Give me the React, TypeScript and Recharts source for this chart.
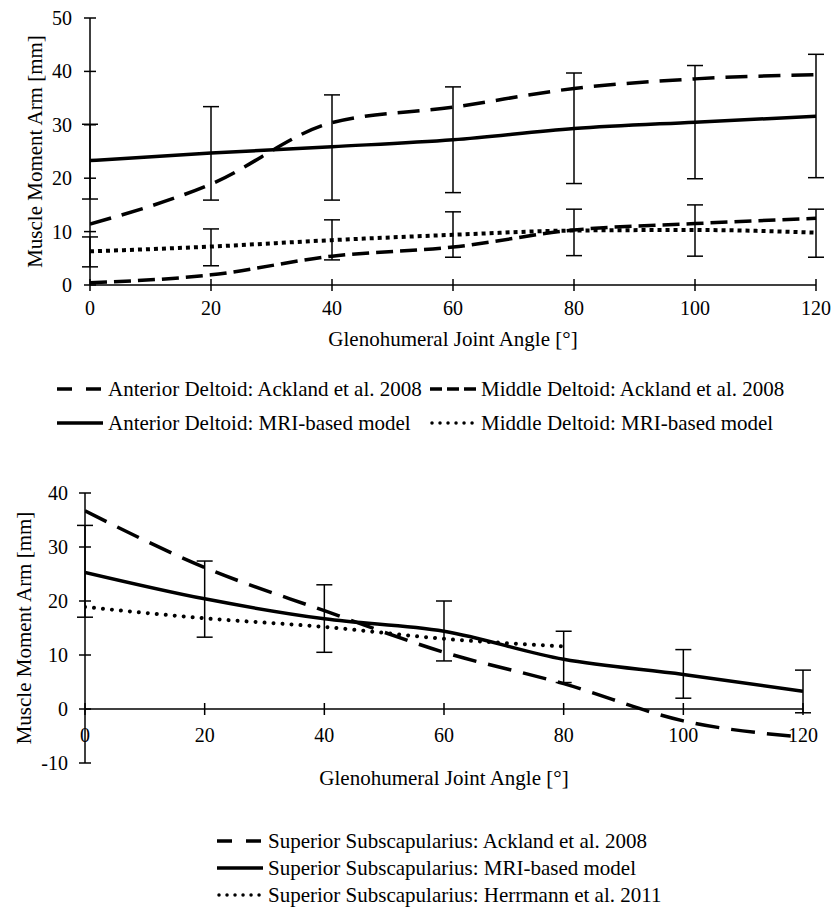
import React from 'react';
import { LineChart, Line, XAxis, YAxis, ErrorBar, ReferenceLine } from 'recharts';

// ---------- data ----------
const angles = [0, 20, 40, 60, 80, 100, 120];
const xTicks = [0, 20, 40, 60, 80, 100, 120];
const topYTicks = [0, 10, 20, 30, 40, 50];
const bottomYTicks = [-10, 0, 10, 20, 30, 40];

const anteriorAckland = [11.4, 18.9, 30.4, 33.3, 36.8, 38.6, 39.4];
const anteriorMRI = [23.3, 24.7, 25.9, 27.2, 29.3, 30.5, 31.6];
const anteriorMRIUpper = [30.1, 33.4, 35.6, 37.1, 39.7, 41.1, 43.2];
const anteriorMRILower = [16.1, 15.9, 15.9, 17.3, 19.0, 19.9, 20.1];

const middleAckland = [0.4, 1.9, 5.4, 7.1, 10.3, 11.5, 12.5];
const middleMRI = [6.3, 7.2, 8.4, 9.4, 10.2, 10.3, 9.8];
const middleMRIUpper = [9.0, 10.5, 12.2, 13.7, 14.2, 15.0, 14.2];
const middleMRILower = [3.4, 3.6, 4.7, 5.2, 5.5, 5.4, 5.2];

const subAckland = [36.7, 26.2, 18.2, 10.5, 4.7, -2.2, -5.2];
const subMRI = [25.3, 20.4, 16.7, 14.4, 9.2, 6.4, 3.3];
const subMRIUpper = [34.0, 27.4, 23.0, 20.0, 14.4, 11.0, 7.2];
const subMRILower = [17.0, 13.3, 10.5, 8.9, 4.9, 2.0, -0.7];
const subHerrmann: (number | null)[] = [18.9, 16.8, 15.2, 13.0, 11.6, null, null];

const topLegend = [
  'Anterior Deltoid: Ackland et al. 2008',
  'Middle Deltoid: Ackland et al. 2008',
  'Anterior Deltoid: MRI-based model',
  'Middle Deltoid: MRI-based model',
];
const bottomLegend = [
  'Superior Subscapularius: Ackland et al. 2008',
  'Superior Subscapularius: MRI-based model',
  'Superior Subscapularius: Herrmann et al. 2011',
];

const topData = angles.map((a, i) => ({
  angle: a,
  antAck: anteriorAckland[i],
  antMRI: anteriorMRI[i],
  antErr: [anteriorMRI[i] - anteriorMRILower[i], anteriorMRIUpper[i] - anteriorMRI[i]],
  midAck: middleAckland[i],
  midMRI: middleMRI[i],
  midErr: [middleMRI[i] - middleMRILower[i], middleMRIUpper[i] - middleMRI[i]],
}));

const bottomData = angles.map((a, i) => ({
  angle: a,
  ack: subAckland[i],
  mri: subMRI[i],
  mriErr: [subMRI[i] - subMRILower[i], subMRIUpper[i] - subMRI[i]],
  herr: subHerrmann[i],
}));

// ---------- styles ----------
const FONT = "'Liberation Serif', 'Times New Roman', serif";
const INK = '#000';
const TICK_FS = 20;
const LABEL_FS = 21;

const DASH_LONG = '22 11';
const DASH_SHORT = '17 7';
const DOT_SQUARE = '4 4';
const DOT_ROUND = '0.01 9';
const DASH_SUB = '24 12';

const LEG_DASH_LONG = '15 14';
const LEG_DASH_SHORT = '12 5';
const LEG_DOT = '0.01 8';

// bottom chart geometry
const B_PLOT_H = 270;
const B_MIN = -10;
const B_MAX = 40;
const B_ZERO_OFF = (B_PLOT_H * (0 - B_MIN)) / (B_MAX - B_MIN);

const XTickTop = (props: any) => {
  const { x, y, payload } = props;
  return (
    <g>
      <line x1={x} x2={x} y1={y - 6} y2={y + 6} stroke={INK} strokeWidth={1.5} />
      <text x={x} y={y + 30} textAnchor="middle" fontSize={TICK_FS} fontFamily={FONT} fill={INK}>
        {payload.value}
      </text>
    </g>
  );
};

const XTickBottom = (props: any) => {
  const { x, y, payload } = props;
  const y0 = y - B_ZERO_OFF;
  return (
    <g>
      <line x1={x} x2={x} y1={y0 - 6} y2={y0 + 6} stroke={INK} strokeWidth={1.5} />
      <text x={x} y={y0 + 33} textAnchor="middle" fontSize={TICK_FS} fontFamily={FONT} fill={INK}>
        {payload.value}
      </text>
    </g>
  );
};

const makeYTick = (gap: number) => (props: any) => {
  const { x, y, payload } = props;
  return (
    <g>
      <line x1={x - 6} x2={x + 6} y1={y} y2={y} stroke={INK} strokeWidth={1.5} />
      <text x={x - gap} y={y + 7} textAnchor="end" fontSize={TICK_FS} fontFamily={FONT} fill={INK}>
        {payload.value}
      </text>
    </g>
  );
};
const YTickTop = makeYTick(18);
const YTickBottom = makeYTick(17);

const LegendItem = ({
  left,
  top,
  dash,
  sw,
  cap,
  label,
}: {
  left: number;
  top: number;
  dash?: string;
  sw: number;
  cap?: 'butt' | 'round';
  label: string;
}) => (
  <div
    style={{
      position: 'absolute',
      left,
      top: top - 13,
      height: 26,
      display: 'flex',
      alignItems: 'center',
      whiteSpace: 'nowrap',
      fontFamily: FONT,
      fontSize: LABEL_FS,
      color: INK,
    }}
  >
    <svg width={46} height={10} style={{ display: 'block' }}>
      <line x1={cap === 'round' ? 2 : 0} y1={5} x2={46} y2={5} stroke={INK} strokeWidth={sw} strokeDasharray={dash} strokeLinecap={cap || 'butt'} />
    </svg>
    <span style={{ marginLeft: 5, lineHeight: '26px' }}>{label}</span>
  </div>
);

export default function App() {
  return (
    <div style={{ position: 'absolute', left: 0, top: 0, width: 835, height: 911, background: '#fff', fontFamily: FONT }}>
      {/* ---------- top chart ---------- */}
      <div style={{ position: 'absolute', left: 0, top: 0 }}>
        <LineChart width={835} height={360} data={topData} margin={{ top: 18, right: 19, bottom: 0, left: 0 }}>
          <XAxis
            dataKey="angle"
            type="number"
            domain={[0, 120]}
            ticks={xTicks}
            interval={0}
            allowDataOverflow
            height={75}
            tickSize={0}
            tickMargin={0}
            tickLine={false}
            axisLine={{ stroke: INK, strokeWidth: 1.5 }}
            tick={<XTickTop />}
            label={{
              value: 'Glenohumeral Joint Angle [°]',
              position: 'insideBottom',
              offset: 14,
              fontSize: LABEL_FS,
              fontFamily: FONT,
              fill: INK,
            }}
          />
          <YAxis
            type="number"
            domain={[0, 50]}
            ticks={topYTicks}
            interval={0}
            width={90}
            tickSize={0}
            tickMargin={0}
            tickLine={false}
            axisLine={{ stroke: INK, strokeWidth: 1.5 }}
            tick={<YTickTop />}
            label={{
              value: 'Muscle Moment Arm [mm]',
              angle: -90,
              position: 'insideLeft',
              offset: 35,
              fontSize: LABEL_FS,
              fontFamily: FONT,
              fill: INK,
              style: { textAnchor: 'middle' },
            }}
          />
          <Line dataKey="antAck" type="monotone" stroke={INK} strokeWidth={3.5} strokeDasharray={DASH_LONG} dot={false} activeDot={false} isAnimationActive={false} />
          <Line dataKey="midAck" type="monotone" stroke={INK} strokeWidth={3.5} strokeDasharray={DASH_SHORT} dot={false} activeDot={false} isAnimationActive={false} />
          <Line dataKey="antMRI" type="monotone" stroke={INK} strokeWidth={3.5} dot={false} activeDot={false} isAnimationActive={false}>
            <ErrorBar dataKey="antErr" width={8} strokeWidth={1.5} stroke={INK} direction="y" />
          </Line>
          <Line dataKey="midMRI" type="monotone" stroke={INK} strokeWidth={4} strokeDasharray={DOT_SQUARE} dot={false} activeDot={false} isAnimationActive={false}>
            <ErrorBar dataKey="midErr" width={8} strokeWidth={1.5} stroke={INK} direction="y" />
          </Line>
        </LineChart>
      </div>

      {/* top legend */}
      <LegendItem left={57} top={389} dash={LEG_DASH_LONG} sw={3.5} label={topLegend[0]} />
      <LegendItem left={430} top={389} dash={LEG_DASH_SHORT} sw={3.5} label={topLegend[1]} />
      <LegendItem left={57} top={423} sw={3.5} label={topLegend[2]} />
      <LegendItem left={430} top={423} dash={LEG_DOT} sw={3.5} cap="round" label={topLegend[3]} />

      {/* ---------- bottom chart ---------- */}
      <div style={{ position: 'absolute', left: 0, top: 470 }}>
        <LineChart width={835} height={340} data={bottomData} margin={{ top: 23, right: 32, bottom: 0, left: 0 }}>
          <XAxis
            dataKey="angle"
            type="number"
            domain={[0, 120]}
            ticks={xTicks}
            interval={0}
            allowDataOverflow
            height={47}
            tickSize={0}
            tickMargin={0}
            tickLine={false}
            axisLine={false}
            tick={<XTickBottom />}
            label={{
              value: 'Glenohumeral Joint Angle [°]',
              position: 'insideBottom',
              offset: 25,
              fontSize: LABEL_FS,
              fontFamily: FONT,
              fill: INK,
            }}
          />
          <YAxis
            type="number"
            domain={[B_MIN, B_MAX]}
            ticks={bottomYTicks}
            interval={0}
            width={85}
            tickSize={0}
            tickMargin={0}
            tickLine={false}
            axisLine={{ stroke: INK, strokeWidth: 1.5 }}
            tick={<YTickBottom />}
            label={{
              value: 'Muscle Moment Arm [mm]',
              angle: -90,
              position: 'insideLeft',
              offset: 24,
              fontSize: LABEL_FS,
              fontFamily: FONT,
              fill: INK,
              style: { textAnchor: 'middle' },
            }}
          />
          <ReferenceLine y={0} stroke={INK} strokeWidth={1.5} />
          <Line dataKey="ack" type="monotone" stroke={INK} strokeWidth={3.5} strokeDasharray={DASH_SUB} dot={false} activeDot={false} isAnimationActive={false} />
          <Line dataKey="mri" type="monotone" stroke={INK} strokeWidth={3.5} dot={false} activeDot={false} isAnimationActive={false}>
            <ErrorBar dataKey="mriErr" width={8} strokeWidth={1.5} stroke={INK} direction="y" />
          </Line>
          <Line dataKey="herr" type="monotone" stroke={INK} strokeWidth={4} strokeDasharray={DOT_ROUND} strokeLinecap="round" dot={false} activeDot={false} connectNulls={false} isAnimationActive={false} />
        </LineChart>
      </div>

      {/* bottom legend */}
      <LegendItem left={217} top={841} dash={LEG_DASH_LONG} sw={3.5} label={bottomLegend[0]} />
      <LegendItem left={217} top={868} sw={3.5} label={bottomLegend[1]} />
      <LegendItem left={217} top={895} dash={LEG_DOT} sw={3.5} cap="round" label={bottomLegend[2]} />
    </div>
  );
}
